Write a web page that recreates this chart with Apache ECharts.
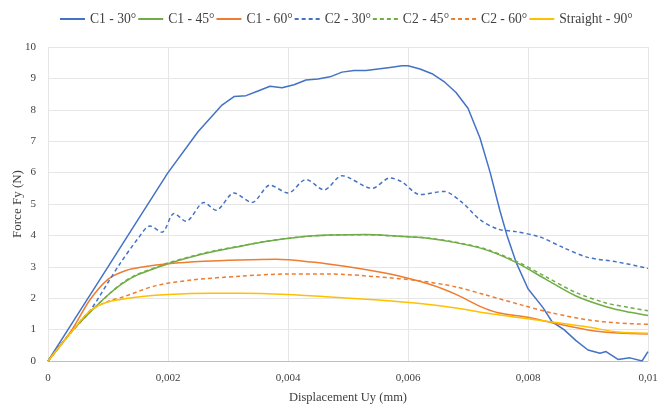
<!DOCTYPE html>
<html>
<head>
<meta charset="utf-8">
<title>Force vs displacement</title>
<script src="https://cdn.jsdelivr.net/npm/echarts@6/dist/echarts.min.js"></script>
<style>
  html, body { margin: 0; padding: 0; background: #fff; }
  #chart { width: 667px; height: 408px; }
</style>
</head>
<body>
<div id="chart"></div>
<script>
// [displacement (mm), force (N)]
var c1_30 = [[0,0],[0.0005,1.5],[0.001,3.0],[0.0015,4.5],[0.002,6.0],[0.0025,7.3],[0.0029,8.15],[0.0031,8.42],[0.0033,8.45],[0.0035,8.6],[0.0037,8.75],[0.0039,8.7],[0.0041,8.8],[0.0043,8.95],[0.0045,8.98],[0.0047,9.05],[0.0049,9.2],[0.0051,9.25],[0.0053,9.25],[0.0055,9.3],[0.0057,9.35],[0.0059,9.4],[0.006,9.4],[0.0062,9.3],[0.0064,9.15],[0.0066,8.9],[0.0068,8.55],[0.007,8.05],[0.0072,7.1],[0.00737,6.0],[0.00753,4.8],[0.00765,4.0],[0.0078,3.15],[0.008,2.3],[0.00825,1.7],[0.0084,1.25],[0.0086,1.0],[0.0088,0.65],[0.009,0.35],[0.0092,0.25],[0.0093,0.3],[0.0095,0.05],[0.0097,0.1],[0.0099,0.0],[0.01,0.3]];
var c1_45 = [[0,0],[0.0004,0.95],[0.0007,1.55],[0.001,2.1],[0.00125,2.48],[0.0015,2.75],[0.0018,2.96],[0.002,3.1],[0.0024,3.32],[0.0028,3.5],[0.0032,3.65],[0.0036,3.8],[0.0042,3.95],[0.0047,4.01],[0.0053,4.03],[0.0058,3.98],[0.0063,3.92],[0.0068,3.77],[0.0073,3.54],[0.0078,3.14],[0.0083,2.6],[0.0088,2.07],[0.0093,1.73],[0.0097,1.55],[0.01,1.45]];
var c1_60 = [[0,0],[0.0004,1.0],[0.0007,1.95],[0.001,2.6],[0.0013,2.88],[0.0016,3.0],[0.002,3.1],[0.0026,3.18],[0.0032,3.22],[0.0038,3.24],[0.0044,3.15],[0.005,3.0],[0.0055,2.84],[0.0059,2.68],[0.0064,2.42],[0.0068,2.12],[0.0072,1.74],[0.0075,1.54],[0.008,1.39],[0.0084,1.22],[0.009,0.99],[0.0095,0.89],[0.01,0.86]];
var c2_30 = [[0,0],[0.0004,0.95],[0.0007,1.6],[0.001,2.5],[0.0012,3.1],[0.0015,3.9],[0.0017,4.3],[0.0019,4.1],[0.0021,4.7],[0.0023,4.45],[0.0026,5.05],[0.0028,4.8],[0.0031,5.35],[0.0034,5.05],[0.0037,5.6],[0.004,5.35],[0.0043,5.78],[0.0046,5.45],[0.0049,5.9],[0.0054,5.5],[0.0057,5.83],[0.0059,5.7],[0.0062,5.3],[0.0066,5.4],[0.0069,5.05],[0.0072,4.5],[0.0075,4.2],[0.0078,4.12],[0.0082,3.95],[0.0086,3.6],[0.009,3.3],[0.0095,3.15],[0.01,2.95]];
var c2_45 = [[0,0],[0.0004,0.95],[0.0007,1.55],[0.001,2.1],[0.00125,2.5],[0.0015,2.77],[0.0018,2.98],[0.002,3.12],[0.0024,3.34],[0.0028,3.52],[0.0032,3.66],[0.0036,3.8],[0.0042,3.95],[0.0047,4.01],[0.0053,4.02],[0.0058,3.98],[0.0063,3.92],[0.0068,3.78],[0.0073,3.56],[0.0078,3.18],[0.0083,2.68],[0.0088,2.18],[0.0093,1.85],[0.0097,1.7],[0.01,1.6]];
var c2_60 = [[0,0],[0.0004,0.95],[0.0007,1.6],[0.001,1.9],[0.00125,2.04],[0.0018,2.4],[0.0024,2.58],[0.0032,2.7],[0.004,2.77],[0.0047,2.77],[0.0055,2.68],[0.0062,2.55],[0.0068,2.36],[0.0073,2.1],[0.0079,1.78],[0.0084,1.53],[0.009,1.31],[0.0095,1.21],[0.01,1.17]];
var straight_90 = [[0,0],[0.0004,0.95],[0.0007,1.6],[0.001,1.88],[0.0015,2.04],[0.002,2.12],[0.0027,2.16],[0.0032,2.16],[0.004,2.12],[0.0047,2.04],[0.0055,1.94],[0.0062,1.83],[0.0068,1.69],[0.0073,1.53],[0.0079,1.37],[0.0084,1.24],[0.009,1.08],[0.0095,0.92],[0.01,0.88]];

var seriesNames = ['C1 - 30°', 'C1 - 45°', 'C1 - 60°', 'C2 - 30°', 'C2 - 45°', 'C2 - 60°', 'Straight - 90°'];
var seriesData = [c1_30, c1_45, c1_60, c2_30, c2_45, c2_60, straight_90];

var BLUE = '#4472C4', GREEN = '#70AD47', ORANGE = '#ED7D31', YELLOW = '#FFC000';
var colors = [BLUE, GREEN, ORANGE, BLUE, GREEN, ORANGE, YELLOW];
var dashed = [false, false, false, true, true, true, false];
var FONT = '"Liberation Serif", "Times New Roman", serif';

var chart = echarts.init(document.getElementById('chart'));

var series = seriesNames.map(function (name, i) {
  return {
    name: name,
    type: 'line',
    data: seriesData[i],
    showSymbol: false,
    symbol: 'none',
    smooth: i === 0 ? false : 0.3,
    color: colors[i],
    lineStyle: {
      color: colors[i],
      width: 1.5,
      type: dashed[i] ? [4, 3] : 'solid'
    },
    animation: false
  };
});

chart.setOption({
  grid: {
    left: 48,
    right: 19,
    top: 47,
    bottom: 47,
    outerBoundsMode: 'none'
  },
  // legend: line only, marker hidden
  legend: {
    show: true,
    top: 7,
    left: 54,
    itemGap: 1,
    itemWidth: 25,
    itemHeight: 12,
    itemStyle: { opacity: 0 },
    textStyle: { fontFamily: FONT, fontSize: 13.6, color: '#404040' },
    data: seriesNames
  },
  xAxis: {
    type: 'value',
    min: 0,
    max: 0.01,
    interval: 0.002,
    name: 'Displacement Uy (mm)',
    nameLocation: 'middle',
    nameGap: 30,
    nameTextStyle: { fontFamily: FONT, fontSize: 12.5, color: '#404040' },
    axisLine: { show: true, lineStyle: { color: '#bfbfbf' } },
    axisTick: { show: false },
    axisLabel: {
      fontFamily: FONT,
      fontSize: 11,
      color: '#404040',
      margin: 12,
      formatter: function (v) {
        return String(Number(v.toFixed(3))).replace('.', ',');
      }
    },
    splitLine: { show: true, lineStyle: { color: '#e6e6e6' } }
  },
  yAxis: {
    type: 'value',
    min: 0,
    max: 10,
    interval: 1,
    name: 'Force Fy (N)',
    nameLocation: 'middle',
    nameGap: 24,
    nameMoveOverlap: false,
    nameTextStyle: { fontFamily: FONT, fontSize: 13, color: '#404040' },
    axisLine: { show: false },
    axisTick: { show: false },
    axisLabel: { fontFamily: FONT, fontSize: 11, color: '#404040', margin: 12 },
    splitLine: { show: true, lineStyle: { color: '#e6e6e6' } }
  },
  series: series
});
</script>
</body>
</html>
